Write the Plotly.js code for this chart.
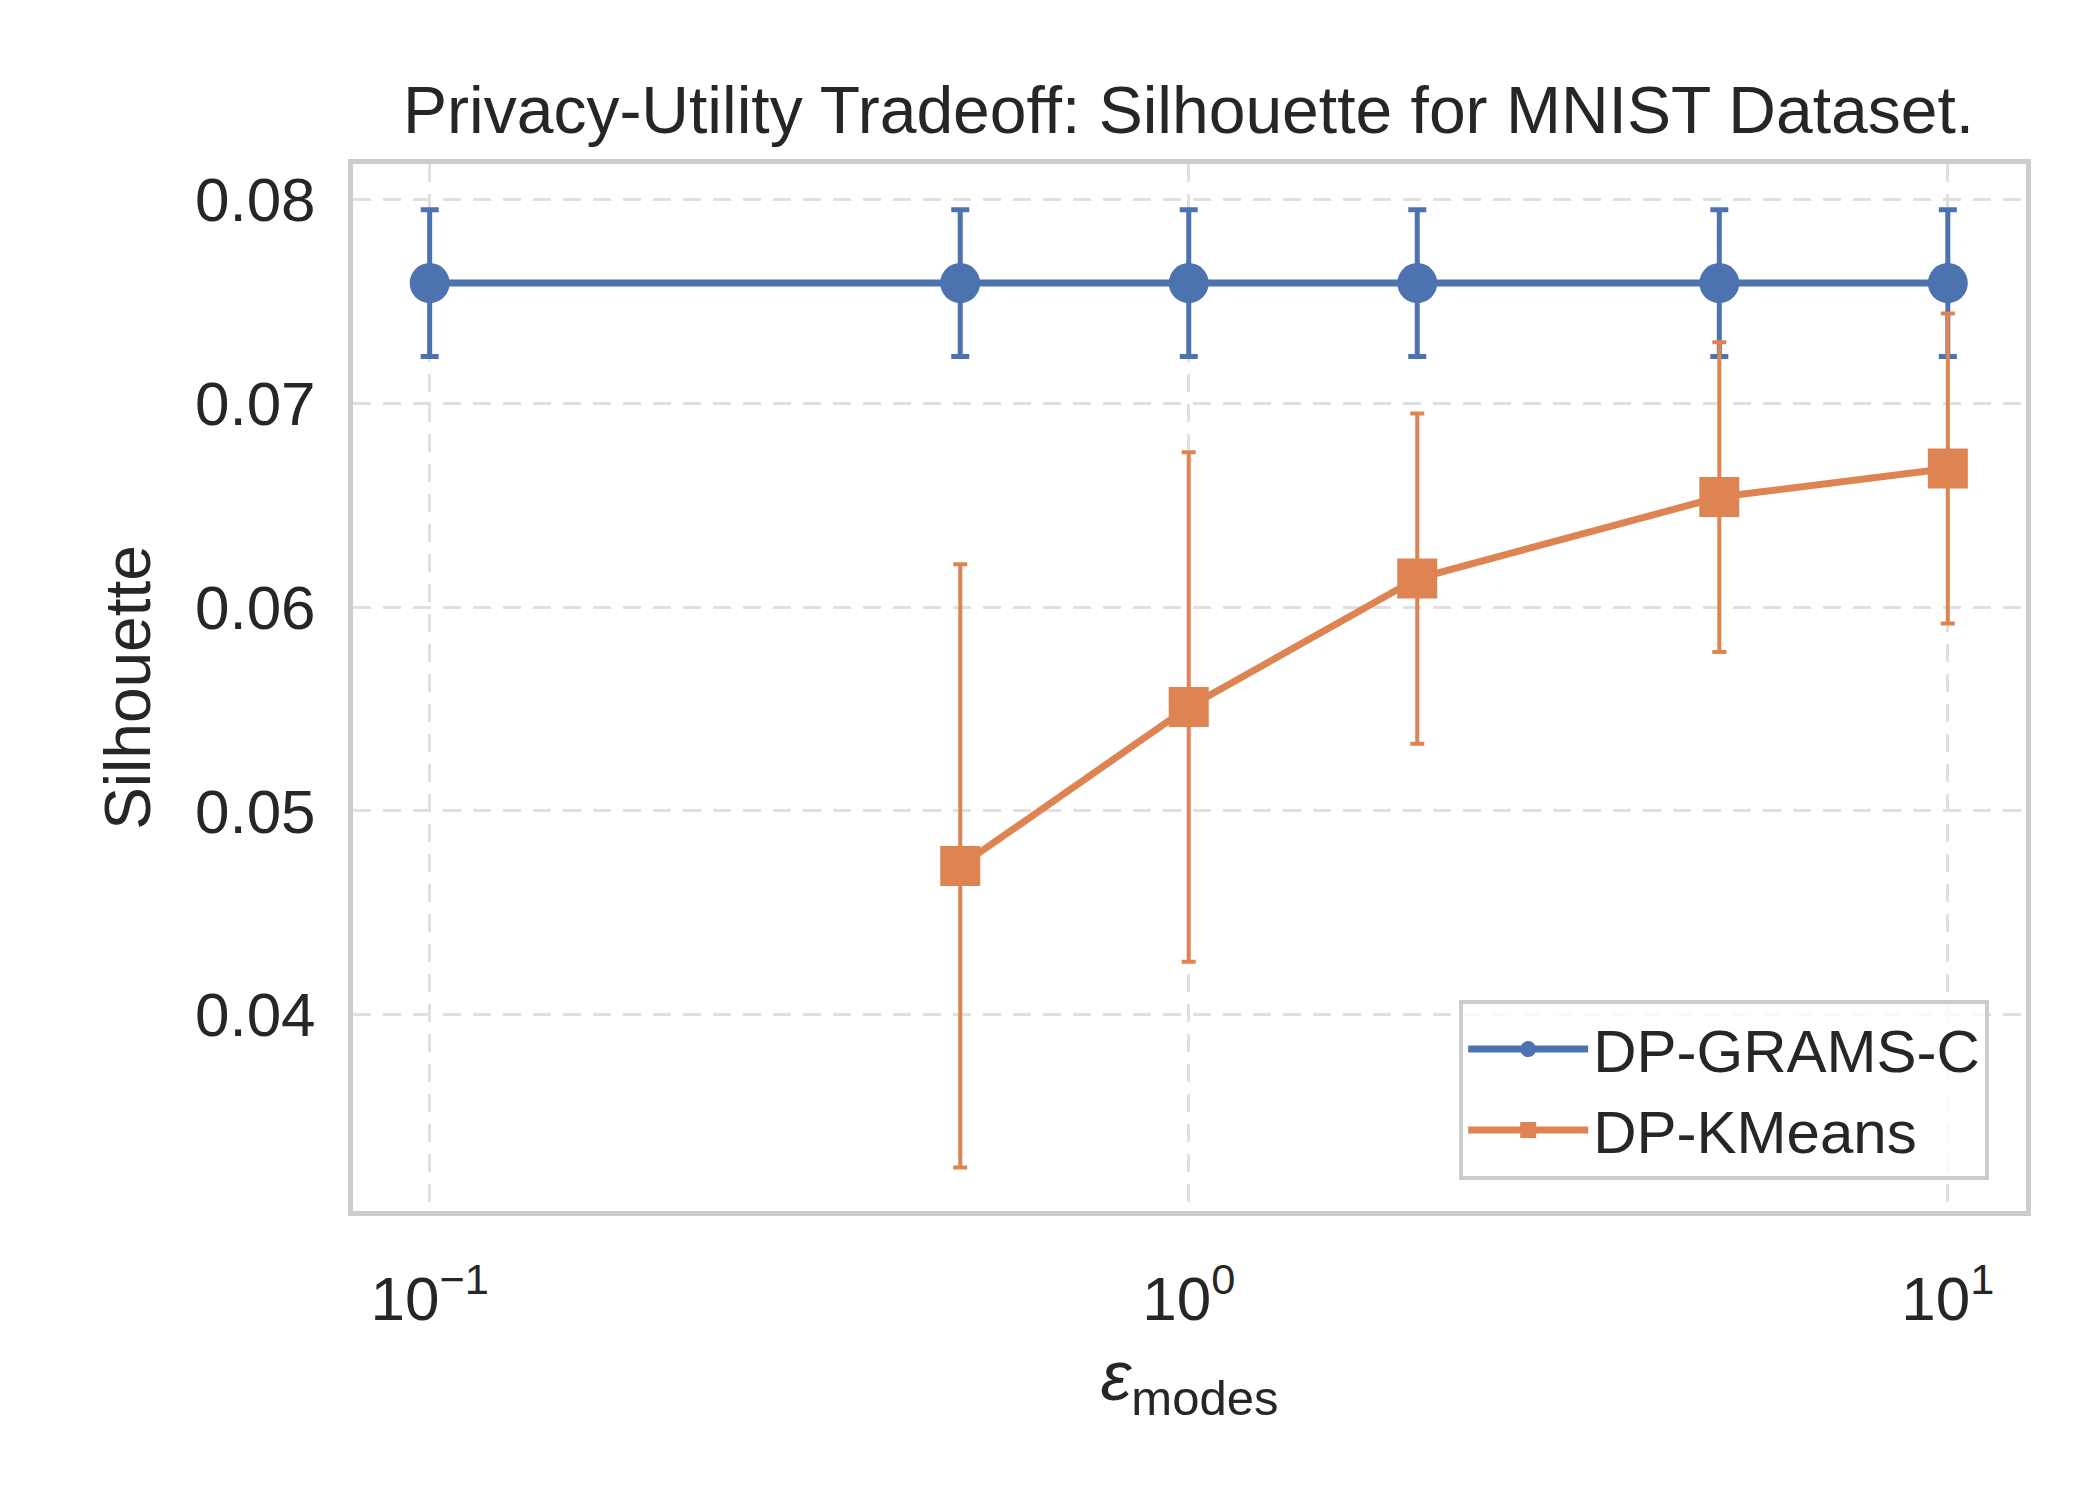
<!DOCTYPE html>
<html>
<head>
<script src="https://cdn.plot.ly/plotly-3.0.1.min.js"></script>
<style>body{margin:0;background:#fff}</style>
</head>
<body>
<div id="chart" style="width:2100px;height:1500px"></div>
<script>
var eps = [0.1, 0.5, 1, 2, 5, 10];
var gramsMean = [0.0759, 0.0759, 0.0759, 0.0759, 0.0759, 0.0759];
var gramsErr = [0.0036, 0.0036, 0.0036, 0.0036, 0.0036, 0.0036];
var kmEps = [0.5, 1, 2, 5, 10];
var kmMean = [0.0473, 0.0551, 0.0614, 0.0654, 0.0668];
var kmErr = [0.0148, 0.0125, 0.0081, 0.0076, 0.0076];

var blue = '#4c72b0', orange = '#dd8452';
var font = 'Liberation Sans, Arial, sans-serif';

var traces = [{
  x: eps, y: gramsMean, name: 'DP-GRAMS-C',
  mode: 'lines+markers', type: 'scatter',
  line: {color: blue, width: 7},
  marker: {color: blue, size: 40, symbol: 'circle'},
  error_y: {type: 'data', array: gramsErr, color: blue, thickness: 5, width: 9}
}, {
  x: kmEps, y: kmMean, name: 'DP-KMeans',
  mode: 'lines+markers', type: 'scatter',
  line: {color: orange, width: 7},
  marker: {color: orange, size: 40, symbol: 'square'},
  error_y: {type: 'data', array: kmErr, color: orange, thickness: 4, width: 7}
}];

var axisCommon = {
  showline: true, mirror: true, linecolor: '#cccccc', linewidth: 5,
  showgrid: true, gridcolor: '#e0e0e0', gridwidth: 3, griddash: '18px,12px',
  zeroline: false, ticks: '',
  tickfont: {family: font, size: 62, color: '#262626'}
};

var layout = {
  width: 2100, height: 1500,
  paper_bgcolor: '#fff', plot_bgcolor: '#fff',
  margin: {l: 353, r: 74, t: 164, b: 289},
  showlegend: true,
  title: {
    text: 'Privacy-Utility Tradeoff: Silhouette for MNIST Dataset.',
    font: {family: font, size: 66, color: '#262626'},
    x: 0.566, xanchor: 'center', y: 0.927, yanchor: 'middle'
  },
  xaxis: Object.assign({}, axisCommon, {
    type: 'log', range: [-1.101, 1.103],
    tickvals: [0.1, 1, 10],
    ticktext: ['10<sup>−1</sup>', '10<sup>0</sup>', '10<sup>1</sup>'],
    ticklabelstandoff: 30,
    title: {text: '<i>ε</i><sub>modes</sub>', font: {family: font, size: 70, color: '#262626'}, standoff: 20}
  }),
  yaxis: Object.assign({}, axisCommon, {
    range: [0.03037, 0.08174],
    tickvals: [0.04, 0.05, 0.06, 0.07, 0.08],
    ticktext: ['0.04', '0.05', '0.06', '0.07', '0.08'],
    ticklabelstandoff: 20,
    title: {text: 'Silhouette', font: {family: font, size: 64, color: '#262626'}, standoff: 25}
  }),
  legend: {
    x: 0.978, xanchor: 'right', y: 0.03, yanchor: 'bottom',
    bgcolor: 'rgba(255,255,255,0.8)', bordercolor: '#cccccc', borderwidth: 4,
    font: {family: font, size: 60, color: '#262626'},
    itemwidth: 120, tracegroupgap: 20, itemsizing: 'trace'
  }
};

Plotly.newPlot('chart', traces, layout, {staticPlot: true});
</script>
</body>
</html>
